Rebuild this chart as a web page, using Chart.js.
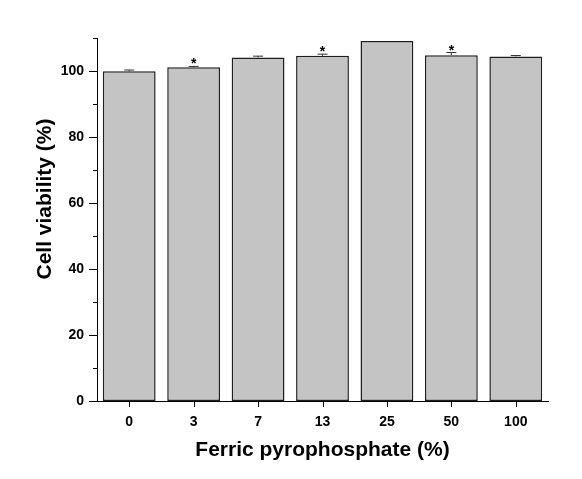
<!DOCTYPE html>
<html>
<head>
<meta charset="utf-8">
<script src="https://cdn.jsdelivr.net/npm/chart.js@4"></script>
<style>
  html, body { margin: 0; padding: 0; background: #fff; }
  #wrap { width: 582px; height: 479px; }
</style>
</head>
<body>
<div id="wrap"><canvas id="viabilityChart" width="582" height="479"></canvas></div>
<script>
// data
let categories = ["0", "3", "7", "13", "25", "50", "100"];
let viability = [99.9, 101.1, 104.1, 104.6, 109.1, 104.8, 104.4];
let errors = [0.4, 0.3, 0.4, 0.5, 0, 0.8, 0.3];
let significant = [false, true, false, true, false, true, false];
let yTicks = [0, 20, 40, 60, 80, 100];

let xTitle = "Ferric pyrophosphate (%)";
let yTitle = "Cell viability (%)";
let fontFamily = "'Liberation Sans', Arial, sans-serif";

// ticks, error bars, stars and axis titles
const extras = {
    id: "extras",
    afterDatasetsDraw(chart) {
        const ctx = chart.ctx;
        const x = chart.scales.x;
        const y = chart.scales.y;
        const area = chart.chartArea;

        ctx.save();
        ctx.strokeStyle = "#000";
        ctx.lineWidth = 1;

        // y ticks, major every 20, minor every 10
        for (let v = y.min; v <= y.max; v += 10) {
            let py = Math.round(y.getPixelForValue(v)) + 0.5;
            let len = v % 20 === 0 ? 8 : 4;
            ctx.beginPath();
            ctx.moveTo(area.left - len, py);
            ctx.lineTo(area.left, py);
            ctx.stroke();
        }

        // x ticks at category centers
        categories.forEach((c, i) => {
            let px = Math.round(x.getPixelForValue(i)) + 0.5;
            ctx.beginPath();
            ctx.moveTo(px, area.bottom);
            ctx.lineTo(px, area.bottom + 6);
            ctx.stroke();
        });

        // error bars
        ctx.strokeStyle = "#333";
        viability.forEach((v, i) => {
            let px = x.getPixelForValue(i);
            let top = y.getPixelForValue(v + errors[i]);
            let mid = y.getPixelForValue(v);
            if (errors[i] > 0) {
                ctx.beginPath();
                ctx.moveTo(px, mid);
                ctx.lineTo(px, top);
                ctx.moveTo(px - 5, top);
                ctx.lineTo(px + 5, top);
                ctx.stroke();
            }
            if (significant[i]) {
                ctx.fillStyle = "#000";
                ctx.font = "bold 14px " + fontFamily;
                ctx.textAlign = "center";
                ctx.textBaseline = "alphabetic";
                ctx.fillText("*", px, top + 2);
            }
        });

        // axis titles
        ctx.fillStyle = "#000";
        ctx.font = "bold 21px " + fontFamily;
        ctx.textAlign = "center";
        ctx.textBaseline = "middle";
        ctx.fillText(xTitle, (area.left + area.right) / 2, 450);

        ctx.translate(45, 199);
        ctx.rotate(-Math.PI / 2);
        ctx.fillText(yTitle, 0, 0);
        ctx.restore();
    }
};

const ctx = document.getElementById("viabilityChart").getContext("2d");
new Chart(ctx, {
    type: "bar",
    data: {
        labels: categories,
        datasets: [{
            data: viability,
            backgroundColor: "#c4c4c4",
            borderColor: "#1e1e1e",
            borderWidth: 1.5,
            borderSkipped: false,
            categoryPercentage: 1.0,
            barPercentage: 0.82
        }]
    },
    options: {
        responsive: false,
        animation: false,
        layout: { padding: { top: 38, right: 34, left: 0, bottom: 0 } },
        plugins: {
            legend: { display: false },
            tooltip: { enabled: false }
        },
        scales: {
            x: {
                grid: { display: false, drawTicks: false },
                border: { display: true, color: "#000", width: 1 },
                ticks: {
                    color: "#000",
                    padding: 13,
                    font: { family: fontFamily, size: 14, weight: "bold" }
                },
                afterFit(scale) { scale.height = 78; }
            },
            y: {
                min: 0,
                max: 110,
                grid: { display: false, drawTicks: false },
                border: { display: true, color: "#000", width: 1 },
                ticks: {
                    stepSize: 10,
                    color: "#000",
                    padding: 13,
                    font: { family: fontFamily, size: 14, weight: "bold" },
                    callback: (v) => yTicks.includes(v) ? v : ""
                },
                afterFit(scale) { scale.width = 97; }
            }
        }
    },
    plugins: [extras]
});
</script>
</body>
</html>
